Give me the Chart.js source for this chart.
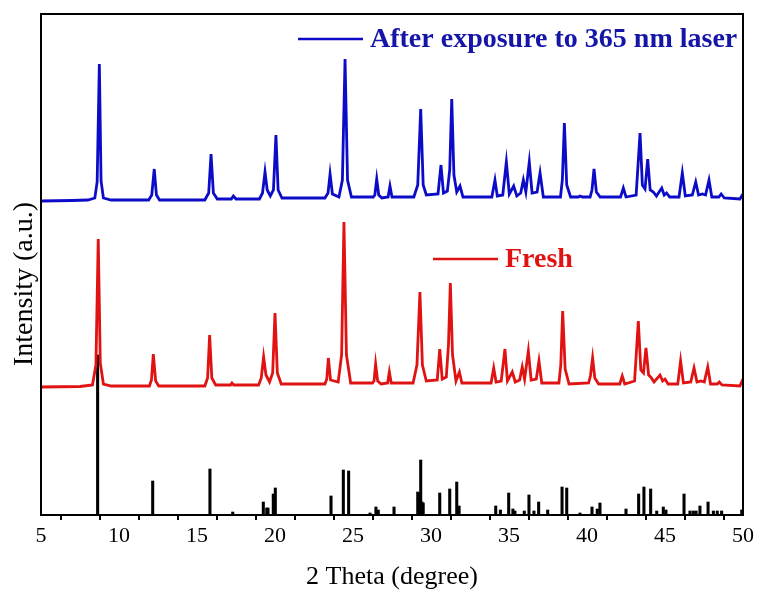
<!DOCTYPE html>
<html>
<head>
<meta charset="utf-8">
<script src="https://cdn.jsdelivr.net/npm/chart.js@4"></script>
<style>
  body { margin:0; background:#fff; }
  canvas { display:block; }
</style>
</head>
<body>
<canvas id="xrd" width="760" height="591"></canvas>
<script>
const SERIF = "'Liberation Serif', 'Times New Roman', serif";
const BLUE = "#0c0cc8";
const BLUE_TEXT = "#1515a8";
const RED = "#e01212";

// x tick labels (2 Theta, degree)
const tickLabels = [5,10,15,20,25,30,35,40,45,50];

// After exposure to 365 nm laser (offset curve)
const blueX = [5.0,7.0,8.0,8.45,8.6,8.74,8.85,9.0,9.5,11.9,12.1,12.26,12.4,12.6,15.5,15.75,15.9,16.05,16.3,17.2,17.33,17.5,
  19.0,19.2,19.36,19.5,19.7,19.9,20.06,20.2,20.45,23.2,23.4,23.53,23.68,24.1,24.32,24.49,24.65,24.9,26.3,26.4,26.52,26.65,26.85,
  27.25,27.37,27.5,28.9,29.15,29.34,29.5,29.7,30.45,30.64,30.8,31.05,31.2,31.33,31.47,31.65,31.86,32.05,33.9,34.1,34.25,34.6,
  34.83,35.02,35.3,35.5,35.75,35.92,36.08,36.3,36.48,36.8,36.99,37.2,38.3,38.42,38.55,38.7,38.95,39.45,39.55,39.7,40.2,40.32,
  40.45,40.6,40.85,42.15,42.33,42.5,43.15,43.4,43.55,43.72,43.89,44.05,44.25,44.45,44.79,44.95,45.1,45.3,45.9,46.11,46.3,46.75,
  46.97,47.15,47.4,47.6,47.82,48.0,48.45,48.6,48.8,49.8,50.0];
const blueY = [314,314.5,315,317,333,451,334,317,315,315,320,346,320,315,315,322,361,322,316,316,319,316,
  316,322,343,325,319,325,380,325,317,317,322,341,321,318,335,456,335,318,318,320,336,320,317,
  318,329,318,318,330,406,330,320,321,350,322,324,345,416,340,323,329,318,318,335,319,320,
  353,321,329,319,322,335,323,353,322,323,342,318,318,335,392,330,318,318,319,318,318,325,
  346,323,318,318,327,318,320,382,330,326,356,325,323,319,327,320,322,318,318,342,319,320,
  333,320,321,320,335,318,318,321,317,316,321];

// Fresh (offset curve)
const redX = [5.0,7.5,8.3,8.52,8.67,8.8,9.0,9.5,11.95,12.08,12.2,12.35,12.55,15.5,15.68,15.81,15.95,16.2,17.15,17.24,17.35,
  18.95,19.12,19.27,19.42,19.65,19.85,20.0,20.15,20.4,23.2,23.32,23.42,23.56,24.05,24.27,24.42,24.58,24.85,26.25,26.35,26.45,
  26.58,26.8,27.22,27.33,27.45,28.85,29.1,29.29,29.45,29.7,30.4,30.56,30.72,30.98,31.12,31.24,31.38,31.6,31.82,31.98,33.85,
  34.02,34.17,34.5,34.74,34.9,35.21,35.4,35.68,35.85,36.0,36.24,36.42,36.75,36.92,37.1,38.2,38.32,38.44,38.6,38.85,40.1,40.22,
  40.36,40.5,40.75,42.1,42.26,42.42,43.05,43.29,43.45,43.62,43.78,43.95,44.08,44.3,44.68,44.85,45.0,45.2,45.82,46.0,46.18,
  46.65,46.86,47.05,47.3,47.52,47.74,47.92,48.35,48.48,48.65,49.8,50.0];
const redY = [128,128.5,130,150,276,152,131,129,129,135,161,134,129,129,137,180,137,130,130,132,130,
  130,137,158,140,133,142,202,142,131,131,136,157,135,133,160,293,160,132,132,134,151,
  134,131,132,143,132,132,150,223,150,134,135,166,136,138,170,232,160,134,143,132,132,
  147,133,134,166,134,143,133,135,148,136,164,135,136,154,132,132,150,204,146,131,132,139,
  157,137,131,131,139,131,134,194,145,142,167,140,138,133,140,134,136,131,131,154,132,
  133,147,133,134,133,148,131,131,133,130,129,136];

// reference stick pattern
const stickX = [8.63,12.16,15.83,17.29,19.25,19.47,19.55,19.89,20.02,23.59,24.38,24.72,26.09,26.47,26.62,27.63,
  29.15,29.25,29.34,29.42,29.5,30.56,31.2,31.65,31.8,34.15,34.45,34.98,35.25,35.38,35.98,36.28,36.6,36.9,37.48,
  38.4,38.7,39.55,40.32,40.66,40.83,42.5,43.31,43.65,44.08,44.47,44.89,45.06,46.22,46.6,46.81,46.99,47.24,47.76,
  48.1,48.35,48.63,49.92];
const stickY = [160,34,46,3,13,7,7,21,27,19,45,44,2,8,5,8,
  23,22,55,13,12,22,26,33,9,9,5,22,6,4,4,20,4,13,5,
  28,27,2,8,6,12,6,21,28,26,4,8,5,21,4,4,4,9,13,
  4,4,4,5];

const pts = (xs, ys) => xs.map((x, i) => ({ x, y: ys[i] }));

const labelPlugin = {
  id: "inlineLegend",
  afterDatasetsDraw(chart) {
    const c = chart.ctx;
    const items = [
      { text: "After exposure to 365 nm laser", line: BLUE, color: BLUE_TEXT, x0: 298, x1: 363, y: 39 },
      { text: "Fresh", line: RED, color: RED, x0: 433, x1: 498, y: 259 },
    ];
    c.save();
    c.font = `bold 28px ${SERIF}`;
    c.textBaseline = "middle";
    items.forEach(it => {
      c.strokeStyle = it.line;
      c.lineWidth = 2.5;
      c.beginPath();
      c.moveTo(it.x0, it.y);
      c.lineTo(it.x1, it.y);
      c.stroke();
      c.fillStyle = it.color;
      c.fillText(it.text, it.x1 + 7, it.y + 1);
    });
    // frame
    const a = chart.chartArea;
    c.strokeStyle = "#000";
    c.lineWidth = 2;
    c.strokeRect(a.left, a.top, a.right - a.left, a.bottom - a.top);
    // y title
    c.translate(25, 284);
    c.rotate(-Math.PI / 2);
    c.font = `28px ${SERIF}`;
    c.textAlign = "center";
    c.fillStyle = "#000";
    c.fillText("Intensity (a.u.)", 0, 0);
    c.restore();
  }
};

new Chart(document.getElementById("xrd"), {
  type: "line",
  data: {
    datasets: [
      { label: "After exposure to 365 nm laser", data: pts(blueX, blueY), borderColor: BLUE, borderWidth: 2.8, pointRadius: 0, tension: 0 },
      { label: "Fresh", data: pts(redX, redY), borderColor: RED, borderWidth: 2.8, pointRadius: 0, tension: 0 },
      { type: "bar", label: "Reference", data: pts(stickX, stickY), backgroundColor: "#000", barThickness: 2.4, borderWidth: 0 },
    ]
  },
  options: {
    responsive: false,
    devicePixelRatio: 1,
    animation: false,
    layout: { padding: { left: 0, right: 17, top: 14, bottom: 0 } },
    plugins: { legend: { display: false }, tooltip: { enabled: false } },
    scales: {
      x: {
        type: "linear",
        min: 5, max: 50,
        offset: false,
        afterFit: s => { s.height = 76; },
        ticks: {
          stepSize: 2.5,
          autoSkip: false,
          maxRotation: 0,
          padding: 3,
          color: "#000",
          font: { family: SERIF, size: 22 },
          callback: v => tickLabels.includes(v) ? String(v) : ""
        },
        grid: { display: true, drawOnChartArea: false, drawTicks: true, tickLength: 5, color: "#000", lineWidth: 2 },
        border: { display: true, color: "#000", width: 2 },
        title: { display: true, text: "2 Theta (degree)", color: "#000", font: { family: SERIF, size: 26 }, padding: { top: 0, bottom: -2 } }
      },
      y: {
        min: 0, max: 501,
        afterFit: s => { s.width = 41; },
        ticks: { display: false },
        grid: { display: false },
        border: { display: true, color: "#000", width: 2 },
        title: { display: false }
      }
    }
  },
  plugins: [labelPlugin]
});
</script>
</body>
</html>
